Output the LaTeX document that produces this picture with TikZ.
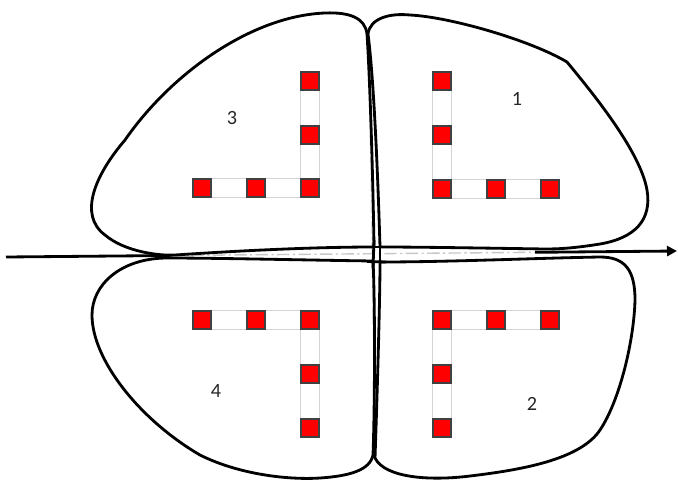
\documentclass[tikz,border=0pt]{standalone}
\usepackage{fontspec}
\setmainfont{Carlito}
\usetikzlibrary{arrows.meta,backgrounds}

\begin{document}
\begin{tikzpicture}[
        x=0.02cm, y=-0.02cm,
        blob/.style={draw, line width=1.6pt, line join=round},
        axis/.style={draw, line width=1.6pt},
        hidden/.style={draw=black!22, line width=0.8pt, dash pattern=on 7pt off 2pt on 1.2pt off 2pt},
        cell/.style={rectangle, draw=black!75, fill=red, line width=0.7pt, minimum size=0.36cm, inner sep=0pt},
        strip/.style={draw=black!17, fill=white, line width=0.5pt},
        num/.style={font=\fontsize{11.5}{13}\selectfont, text=black!85}
    ]
    \useasboundingbox (0,0) rectangle (678,480);

    % Asse orizzontale (tratto centrale nascosto)
    \coordinate (xl) at (6,257);
    \coordinate (xa) at (170,255.5);
    \coordinate (xb) at (535,252.3);
    \coordinate (xr) at (677,251);
    \coordinate (yt) at (369,50);
    \coordinate (yb) at (375,450);
    \draw[axis] (xl) -- (xa);
    \draw[hidden] (xa) -- (xb);
    \draw[axis, -{Triangle[length=2mm, width=2mm]}] (xb) -- (xr);
    \draw[hidden, draw=black!12] (yt) -- (yb);

    % Quadrante 3
    \draw[blob] (367,34) .. controls (365,18) and (350,12) .. (325,13)
        .. controls (250,16) and (170,75) .. (125,140)
        .. controls (95,175) and (78,215) .. (105,235)
        .. controls (125,252) and (160,256) .. (175,255)
        .. controls (250,250) and (320,247) .. (374,247)
        .. controls (373,180) and (370,80) .. (367,34) -- cycle;
    % Quadrante 1
    \draw[blob] (368,34) .. controls (370,18) and (390,13) .. (410,15)
        .. controls (450,17) and (530,40) .. (567,62)
        .. controls (590,90) and (640,150) .. (647,190)
        .. controls (652,220) and (635,238) .. (600,244)
        .. controls (575,248) and (560,249) .. (545,249)
        .. controls (480,248) and (420,247) .. (380,247)
        .. controls (378,180) and (374,80) .. (368,34) -- cycle;
    % Quadrante 4
    \draw[blob] (373,261) .. controls (300,260) and (220,258) .. (165,258)
        .. controls (120,259) and (92,285) .. (92,315)
        .. controls (92,360) and (140,420) .. (200,455)
        .. controls (240,475) and (290,480) .. (320,478)
        .. controls (350,476) and (370,470) .. (373,455)
        .. controls (375,400) and (375,300) .. (373,261) -- cycle;
    % Quadrante 2
    \draw[blob] (380,262) .. controls (450,262) and (540,258) .. (600,257)
        .. controls (625,257) and (635,270) .. (635,300)
        .. controls (634,340) and (620,400) .. (600,430)
        .. controls (580,460) and (520,470) .. (470,476)
        .. controls (430,481) and (385,478) .. (375,458)
        .. controls (377,400) and (380,300) .. (380,262) -- cycle;

    % Incrocio centrale
    \draw[blob] (368,247) -- (386,247);
    \draw[blob] (367,261.5) -- (386,262);
    \draw[blob] (374,240) -- (373,268);
    \draw[blob] (380,240) -- (380,268);

    % Celle rosse
    \node[cell] (a1) at (202,188) {};
    \node[cell] (a2) at (256,188) {};
    \node[cell] (a3) at (310,188) {};
    \node[cell] (a4) at (310,135) {};
    \node[cell] (a5) at (310,81) {};

    \node[cell] (b1) at (442,189) {};
    \node[cell] (b2) at (496,189) {};
    \node[cell] (b3) at (550,189) {};
    \node[cell] (b4) at (442,135) {};
    \node[cell] (b5) at (442,81) {};

    \node[cell] (c1) at (442,320) {};
    \node[cell] (c2) at (496,320) {};
    \node[cell] (c3) at (550,320) {};
    \node[cell] (c4) at (442,374) {};
    \node[cell] (c5) at (442,428) {};

    \node[cell] (d1) at (202,320) {};
    \node[cell] (d2) at (256,320) {};
    \node[cell] (d3) at (310,320) {};
    \node[cell] (d4) at (310,374) {};
    \node[cell] (d5) at (310,428) {};

    % Strisce grigie dietro le celle
    \begin{scope}[on background layer]
        \draw[strip] (a1.north west) rectangle (a3.south east);
        \draw[strip] (a5.north west) rectangle (a3.south east);
        \draw[strip] (b1.north west) rectangle (b3.south east);
        \draw[strip] (b5.north west) rectangle (b1.south east);
        \draw[strip] (c1.north west) rectangle (c3.south east);
        \draw[strip] (c1.north west) rectangle (c5.south east);
        \draw[strip] (d1.north west) rectangle (d3.south east);
        \draw[strip] (d3.north west) rectangle (d5.south east);
    \end{scope}

    % Etichette
    \node[num] (n1) at (517,99) {1};
    \node[num] (n2) at (532,404) {2};
    \node[num] (n3) at (232,118) {3};
    \node[num] (n4) at (216,391) {4};

\end{tikzpicture}
\end{document}
